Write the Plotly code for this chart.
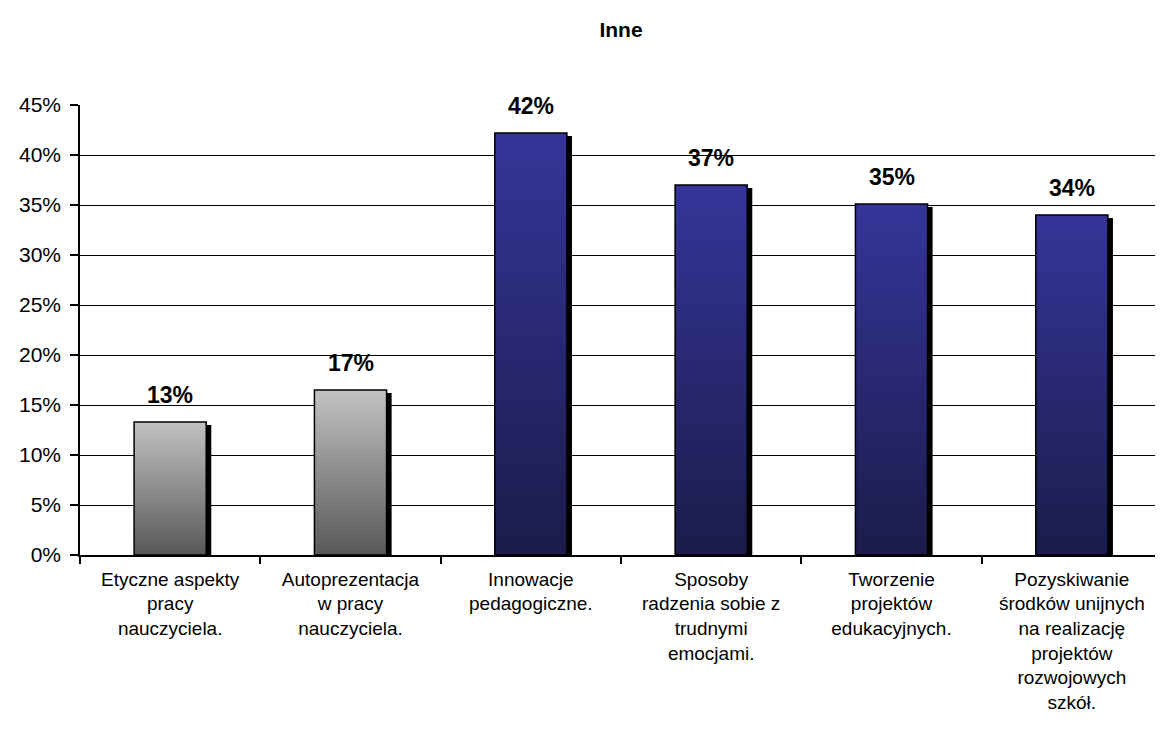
import plotly.graph_objects as go

categories = [
    "Etyczne aspekty<br>pracy<br>nauczyciela.",
    "Autoprezentacja<br>w pracy<br>nauczyciela.",
    "Innowacje<br>pedagogiczne.",
    "Sposoby<br>radzenia sobie z<br>trudnymi<br>emocjami.",
    "Tworzenie<br>projektów<br>edukacyjnych.",
    "Pozyskiwanie<br>środków unijnych<br>na realizację<br>projektów<br>rozwojowych<br>szkół.",
]
values = [13.3, 16.5, 42.2, 37.0, 35.1, 34.0]
groups = ["gray", "gray", "blue", "blue", "blue", "blue"]
y_ticks = [0, 5, 10, 15, 20, 25, 30, 35, 40, 45]

FONT = "Liberation Sans, Arial, sans-serif"
BAR_W = 0.4
SH_DX = 0.028
SH_DY = 0.3
gradients = {
    "gray": [[0, "#585858"], [1, "#c2c2c2"]],
    "blue": [[0, "#1b1b4a"], [1, "#35359a"]],
}

fig = go.Figure()

for i, v in enumerate(values):
    # shadow
    x0, x1 = i - BAR_W / 2 + SH_DX, i + BAR_W / 2 + SH_DX
    fig.add_trace(go.Scatter(
        x=[x0, x1, x1, x0, x0], y=[0, 0, v - SH_DY, v - SH_DY, 0],
        mode="lines", fill="toself", fillcolor="#000000",
        line=dict(color="#000000", width=0), hoverinfo="skip", showlegend=False))
for i, v in enumerate(values):
    x0, x1 = i - BAR_W / 2, i + BAR_W / 2
    fig.add_trace(go.Scatter(
        x=[x0, x1, x1, x0, x0], y=[0, 0, v, v, 0],
        mode="lines", fill="toself",
        fillgradient=dict(type="vertical", colorscale=gradients[groups[i]]),
        line=dict(color="#000000", width=1.5), hoverinfo="skip", showlegend=False))
    fig.add_annotation(x=i, y=v, text=f"{int(v + 0.5)}%", showarrow=False,
                       yanchor="bottom", yshift=12,
                       font=dict(family=FONT, size=23, color="#000000", weight="bold"))

fig.add_shape(type="line", xref="paper", yref="paper", x0=0.9995, x1=0.9995, y0=0, y1=1,
              line=dict(color="#888888", width=1.5))

fig.update_layout(
    width=1155, height=734,
    margin=dict(l=72, r=1, t=97, b=187),
    paper_bgcolor="white", plot_bgcolor="white",
    title=dict(text="<b>Inne</b>", x=0.5, xref="paper", y=1 - 22 / 734, yref="container",
               yanchor="middle", font=dict(family=FONT, size=21, color="#000000")),
    font=dict(family=FONT, color="#000000"),
    showlegend=False,
)
fig.update_xaxes(
    range=[-0.5, len(values) - 0.5], tickmode="array",
    tickvals=list(range(len(categories))), ticktext=categories,
    ticks="outside", ticklen=6, tickcolor="rgba(0,0,0,0)",
    tickfont=dict(family=FONT, size=19, color="#000000"),
    showline=True, linecolor="#000000", linewidth=1.5,
    showgrid=False, zeroline=False,
    minor=dict(tick0=0.5, dtick=1, ticks="outside", ticklen=7, tickcolor="#000000", tickwidth=1.5),
)
fig.update_yaxes(
    range=[0, 45], tickmode="array", tickvals=y_ticks,
    ticktext=[f"{t}%" for t in y_ticks],
    ticks="outside", ticklen=8, tickcolor="#000000", tickwidth=1.5,
    tickfont=dict(family=FONT, size=21, color="#000000"),
    ticklabelstandoff=5,
    showline=True, linecolor="#000000", linewidth=1.5,
    showgrid=True, gridcolor="#000000", gridwidth=1, zeroline=False,
)

fig.write_html("out.html")
